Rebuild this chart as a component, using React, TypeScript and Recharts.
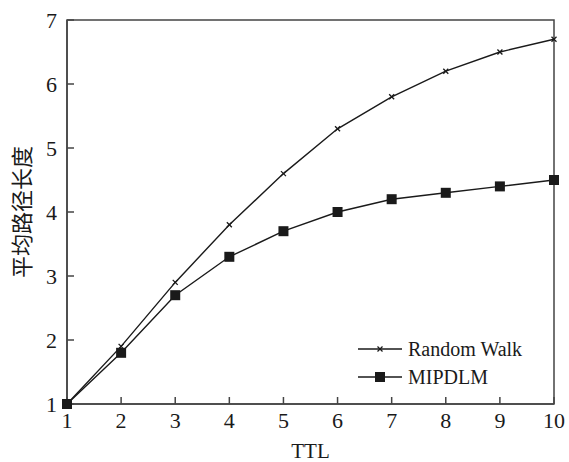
import React from "react";
import { LineChart, Line, XAxis, YAxis, ReferenceArea } from "recharts";

const ttl = [1, 2, 3, 4, 5, 6, 7, 8, 9, 10];
const randomWalk = [1, 1.9, 2.9, 3.8, 4.6, 5.3, 5.8, 6.2, 6.5, 6.7];
const mipdlm = [1, 1.8, 2.7, 3.3, 3.7, 4.0, 4.2, 4.3, 4.4, 4.5];
const yTicks = [1, 2, 3, 4, 5, 6, 7];
const seriesNames = ["Random Walk", "MIPDLM"];

const data = ttl.map((t, i) => ({ ttl: t, rw: randomWalk[i], mip: mipdlm[i] }));

const serif = "'Liberation Serif', 'DejaVu Serif', serif";
const ink = "#1a1a1a";
const axisColor = "#444";

const CrossDot = (props: any) => {
  const { cx, cy } = props;
  if (cx == null || cy == null) return null;
  const s = 2.5;
  return (
    <g stroke={ink} strokeWidth={1.3}>
      <line x1={cx - s} y1={cy - s} x2={cx + s} y2={cy + s} />
      <line x1={cx - s} y1={cy + s} x2={cx + s} y2={cy - s} />
    </g>
  );
};

const SquareDot = (props: any) => {
  const { cx, cy } = props;
  if (cx == null || cy == null) return null;
  return <rect x={cx - 5} y={cy - 5} width={10} height={10} fill={ink} />;
};

const LegendBox = () => (
  <svg width={200} height={50} style={{ fontFamily: serif, display: "block" }}>
    <line x1={2} y1={10} x2={46} y2={10} stroke={ink} strokeWidth={1.3} />
    <CrossDot cx={24} cy={10} />
    <text x={52} y={17} fontSize={20} fill={ink}>{seriesNames[0]}</text>
    <line x1={2} y1={38} x2={46} y2={38} stroke={ink} strokeWidth={1.3} />
    <SquareDot cx={24} cy={38} />
    <text x={52} y={45} fontSize={20} fill={ink}>{seriesNames[1]}</text>
  </svg>
);

export default function App() {
  return (
    <div style={{ position: "relative", width: 569, height: 462, background: "#fff" }}>
      <style>{"body{margin:0}"}</style>
      <LineChart
        width={569}
        height={462}
        data={data}
        margin={{ top: 20, right: 15, left: 0, bottom: 0 }}
      >
        <ReferenceArea
          x1={1}
          x2={10}
          y1={1}
          y2={7}
          fill="none"
          fillOpacity={0}
          stroke={axisColor}
          strokeWidth={1.5}
        />
        <XAxis
          dataKey="ttl"
          type="number"
          domain={[1, 10]}
          ticks={ttl}
          height={58}
          stroke={axisColor}
          strokeWidth={1.5}
          tickSize={-7}
          tickMargin={15}
          tick={{ fill: ink, fontSize: 22, fontFamily: serif }}
          label={{
            value: "TTL",
            position: "insideBottom",
            offset: 4,
            fill: ink,
            fontSize: 21,
            fontFamily: serif,
          }}
        />
        <YAxis
          type="number"
          domain={[1, 7]}
          ticks={yTicks}
          width={67}
          stroke={axisColor}
          strokeWidth={1.5}
          tickSize={-7}
          tickMargin={17}
          tick={{ fill: ink, fontSize: 22, fontFamily: serif }}
          label={{
            value: "平均路径长度",
            angle: -90,
            position: "insideLeft",
            offset: 22,
            fill: ink,
            fontSize: 22,
            fontFamily: "'Noto Sans CJK SC', sans-serif",
            style: { textAnchor: "middle" },
          }}
        />
        <Line
          dataKey="rw"
          name={seriesNames[0]}
          stroke={ink}
          strokeWidth={1.4}
          dot={<CrossDot />}
          isAnimationActive={false}
        />
        <Line
          dataKey="mip"
          name={seriesNames[1]}
          stroke={ink}
          strokeWidth={1.4}
          dot={<SquareDot />}
          isAnimationActive={false}
        />
      </LineChart>
      <div style={{ position: "absolute", left: 356, top: 339 }}>
        <LegendBox />
      </div>
    </div>
  );
}
